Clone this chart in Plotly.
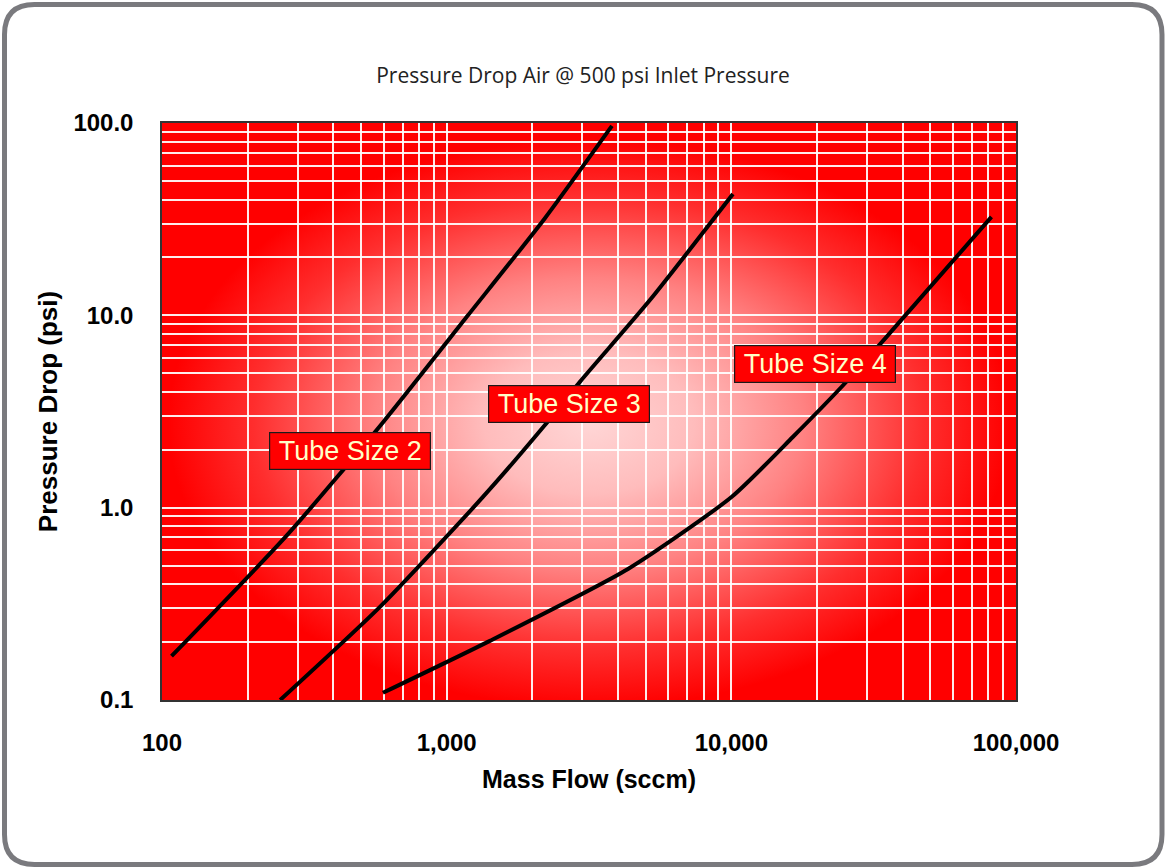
import base64
import math
import plotly.graph_objects as go

# ---------------- data ----------------
tube2_flow = [108, 275, 600, 1188, 2214, 3807]
tube2_dp = [0.169, 0.72, 2.8, 10.0, 32.0, 96.6]

tube3_flow = [260, 583, 1341, 2214, 2938, 5176, 10130]
tube3_dp = [0.10, 0.305, 1.137, 2.69, 4.51, 12.0, 42.7]

tube4_flow = [597, 1419, 4335, 10040, 16440, 25700, 36600, 82000]
tube4_dp = [0.109, 0.203, 0.48, 1.14, 2.33, 4.61, 8.3, 32.5]

x_tickvals = [100, 1000, 10000, 100000]
x_ticktext = ["100", "1,000", "10,000", "100,000"]
y_tickvals = [0.1, 1, 10, 100]
y_ticktext = ["0.1", "1.0", "10.0", "100.0"]

label_text = ["Tube Size 2", "Tube Size 3", "Tube Size 4"]
label_flow = [457, 2690, 19660]
label_dp = [1.97, 3.44, 5.59]

# ---------------- layout geometry ----------------
W, H = 1166, 867
L, R, T, B = 162, 1016, 123, 700
pw, ph = R - L, B - T

def px(xp):
    return (xp - L) / pw

def py(yp):
    return (B - yp) / ph

# radial gradient background (svg)
svg = f'''<svg xmlns="http://www.w3.org/2000/svg" width="{pw}" height="{ph}" viewBox="0 0 {pw} {ph}" preserveAspectRatio="none">
<defs><radialGradient id="g" cx="0.50" cy="0.52" r="0.56" fx="0.50" fy="0.52">
<stop offset="0" stop-color="#ffd6d6"/>
<stop offset="0.22" stop-color="#ffbcbc"/>
<stop offset="0.45" stop-color="#ff8282"/>
<stop offset="0.70" stop-color="#ff2e2e"/>
<stop offset="0.88" stop-color="#ff0000"/>
<stop offset="1" stop-color="#ff0000"/>
</radialGradient></defs>
<rect x="0" y="0" width="{pw}" height="{ph}" fill="url(#g)"/>
</svg>'''
src = "data:image/svg+xml;base64," + base64.b64encode(svg.encode()).decode()

fig = go.Figure()

for fx, fy in [(tube2_flow, tube2_dp), (tube3_flow, tube3_dp), (tube4_flow, tube4_dp)]:
    fig.add_trace(go.Scatter(x=fx, y=fy, mode="lines",
                             line=dict(color="black", width=4, shape="spline", smoothing=0.6),
                             showlegend=False, hoverinfo="skip"))

minor_x = [m * 10 ** e for e in range(2, 5) for m in range(2, 10)]
minor_y = [m * 10 ** e for e in range(-1, 2) for m in range(2, 10)]

tick_font = dict(family="Liberation Sans, Arial, sans-serif", size=24, color="black", weight="bold")
title_font = dict(family="Liberation Sans, Arial, sans-serif", size=25, color="black", weight="bold")
grid_c = "rgba(255,255,255,0.92)"

fig.update_xaxes(type="log", range=[2, 5], tickvals=x_tickvals, ticktext=x_ticktext,
                 tickfont=tick_font, ticks="outside", ticklen=20, tickcolor="rgba(0,0,0,0)",
                 showgrid=True, gridcolor=grid_c, gridwidth=1.6,
                 minor=dict(tickvals=minor_x, showgrid=True, gridcolor=grid_c,
                            gridwidth=1.6, ticks=""),
                 showline=True, linecolor="#333333", linewidth=1.5, mirror=True, zeroline=False,
                 title=dict(text="Mass Flow (sccm)", font=title_font, standoff=16))
fig.update_yaxes(type="log", range=[-1, 2], tickvals=y_tickvals, ticktext=y_ticktext,
                 tickfont=tick_font, ticks="outside", ticklen=22, tickcolor="rgba(0,0,0,0)",
                 showgrid=True, gridcolor=grid_c, gridwidth=1.6,
                 minor=dict(tickvals=minor_y, showgrid=True, gridcolor=grid_c,
                            gridwidth=1.6, ticks=""),
                 showline=True, linecolor="#333333", linewidth=1.5, mirror=True, zeroline=False,
                 title=dict(text="Pressure Drop (psi)", font=dict(title_font, size=26), standoff=8))

annotations = []
for t, fx, fy in zip(label_text, label_flow, label_dp):
    annotations.append(dict(x=math.log10(fx), y=math.log10(fy), xref="x", yref="y",
                            text=t, showarrow=False, width=158, height=34,
                            align="center", valign="middle",
                            font=dict(family="Liberation Sans, Arial, sans-serif", size=27,
                                      color="#ffffc8"),
                            bgcolor="#ff0000", bordercolor="#1a1a1a", borderwidth=1.2,
                            borderpad=1))

# rounded frame
def rr_path(x0, y0, x1, y1, r):
    pts = [
        f"M {px(x0 + r)},{py(y0)}",
        f"L {px(x1 - r)},{py(y0)}",
        f"Q {px(x1)},{py(y0)} {px(x1)},{py(y0 + r)}",
        f"L {px(x1)},{py(y1 - r)}",
        f"Q {px(x1)},{py(y1)} {px(x1 - r)},{py(y1)}",
        f"L {px(x0 + r)},{py(y1)}",
        f"Q {px(x0)},{py(y1)} {px(x0)},{py(y1 - r)}",
        f"L {px(x0)},{py(y0 + r)}",
        f"Q {px(x0)},{py(y0)} {px(x0 + r)},{py(y0)}",
        "Z",
    ]
    return " ".join(pts)

fig.update_layout(
    width=W, height=H, autosize=False,
    margin=dict(l=L, r=W - R, t=T, b=H - B, pad=0),
    paper_bgcolor="white", plot_bgcolor="rgba(0,0,0,0)",
    title=dict(text="Pressure Drop Air @ 500 psi Inlet Pressure",
               font=dict(family="Open Sans, sans-serif", size=21, color="#222222"),
               x=583 / W, xanchor="center", xref="container",
               y=1 - 76 / H, yanchor="middle", yref="container"),
    images=[dict(source=src, xref="paper", yref="paper", x=0, y=1, sizex=1, sizey=1,
                 xanchor="left", yanchor="top", sizing="stretch", layer="below")],
    shapes=[dict(type="path", xref="paper", yref="paper",
                 path=rr_path(4.5, 4.5, 1162, 864.5, 30),
                 line=dict(color="#7a7a7e", width=5), fillcolor="rgba(0,0,0,0)")],
    annotations=annotations,
)

fig.write_html("out.html")
